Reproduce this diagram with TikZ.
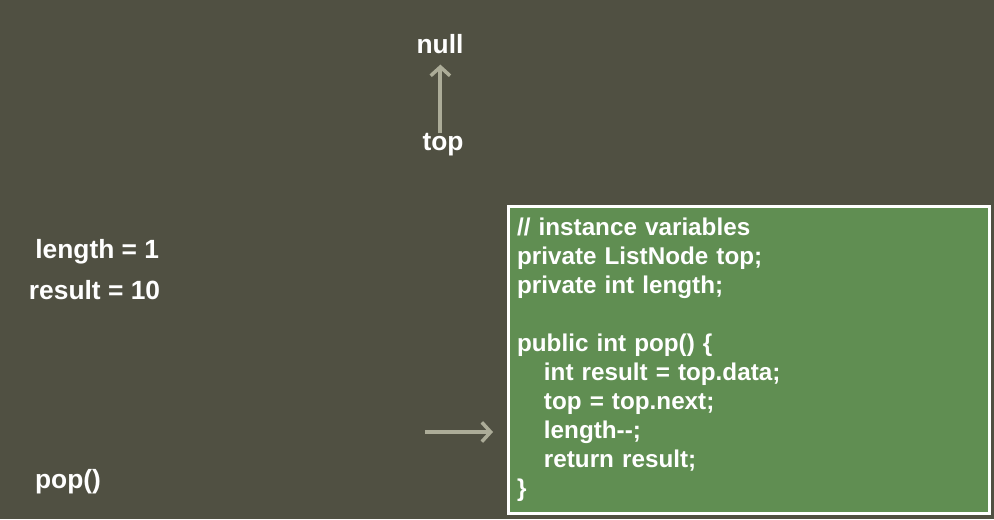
\documentclass[tikz,border=0pt]{standalone}
\usepackage{fontspec}
\setmainfont{Liberation Sans}
\usetikzlibrary{positioning,arrows.meta,calc}
\definecolor{slidebg}{RGB}{80,80,66}
\definecolor{codegreen}{RGB}{96,142,82}
\definecolor{ptrgray}{RGB}{172,172,152}
\tikzstyle{lbl}=[text=white, font=\fontsize{15pt}{18pt}\selectfont\bfseries, inner sep=2pt]
\tikzstyle{codebox}=[rectangle, draw=white, line width=1.8pt, fill=codegreen,
                     text=white, font=\fontsize{13.8pt}{16.5pt}\selectfont\bfseries,
                     align=left, text width=9.28cm, inner xsep=0.17cm,
                     minimum height=6.14cm]
\tikzstyle{parrow}=[-{Straight Barb[length=5pt,width=11pt,line width=2pt]}, draw=ptrgray, line width=2.2pt]
\newcommand{\ind}{\hspace*{15.3pt}}

\begin{document}
\begin{tikzpicture}
\useasboundingbox (0,0) rectangle (19.88,10.38);
\fill[slidebg] (0,0) rectangle (19.88,10.38);

\node (NULL) [lbl] at (8.80,9.50) {null};
\node (TOP) [lbl] at (8.86,7.48) {top};
 \draw[parrow, shorten >=4pt] ([xshift=-1.5pt,yshift=-2pt]TOP.north) -- ([xshift=-1.5pt]TOP.north |- NULL.south);

\node (LEN) [lbl, anchor=east] at (3.26,5.34) {length = 1};
\node (RES) [lbl, anchor=east] at (3.28,4.58) {result = 10};

\node (POP) [lbl] at (1.36,0.74) {pop()};

\node (CODE) [codebox, anchor=north west] at (10.14,6.28) {%
// instance variables\\
private ListNode top;\\
private int length;\\[16.5pt]
public int pop() \{\\
\ind int result = top.data;\\
\ind top = top.next;\\
\ind length-{}-;\\
\ind return result;\\
\}};
\coordinate (PTRTAIL) at (8.50,1.74);
\coordinate (PTRHEAD) at (9.86,1.74);
 \draw[parrow] (PTRTAIL) -- (PTRHEAD);

\end{tikzpicture}
\end{document}
